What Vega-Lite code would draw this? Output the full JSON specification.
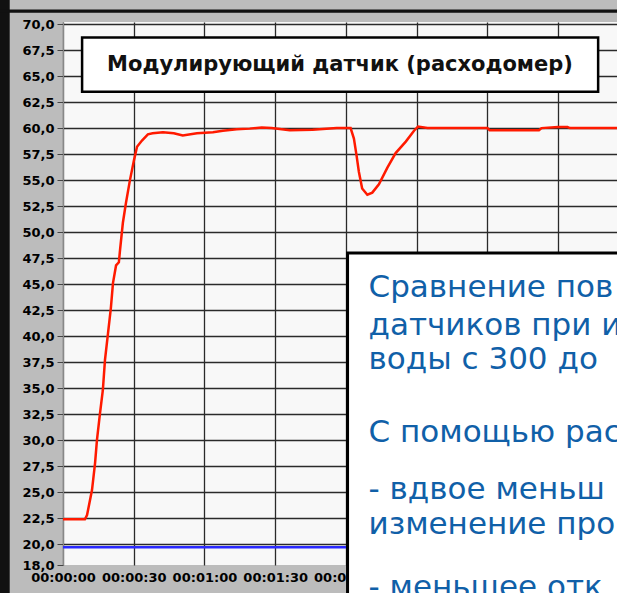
{
  "$schema": "https://vega.github.io/schema/vega-lite/v6.json",
  "width": 554,
  "height": 543,
  "autosize": {"type": "none"},
  "padding": {"left": 63, "top": 22, "right": 0, "bottom": 28},
  "background": "#bcbcbc",
  "config": {
    "view": {"fill": "#f8f8f8", "stroke": null},
    "axis": {"labelOverlap": false, "labelBound": false, "labelFont": "DejaVu Sans", "labelFontWeight": "bold", "labelColor": "#000000", "grid": true, "gridColor": "#2a2a2a", "gridWidth": 1.3, "title": null},
    "axisX": {"labelFontSize": 13, "labelPadding": 6, "ticks": false, "domain": false, "labelFlush": false},
    "axisY": {"labelFontSize": 13, "labelPadding": 3, "tickSize": 6, "tickColor": "#444444", "domainColor": "#888888"}
  },
  "datasets": {
    "red": [
      {"t": 0, "v": 22.4}, {"t": 5, "v": 22.4}, {"t": 9.3, "v": 22.4}, {"t": 10.2, "v": 22.8},
      {"t": 12.3, "v": 25.2}, {"t": 13.6, "v": 27.8}, {"t": 14.4, "v": 30.0}, {"t": 15.7, "v": 32.6},
      {"t": 16.9, "v": 34.8}, {"t": 17.8, "v": 37.7}, {"t": 19.1, "v": 40.3}, {"t": 20.3, "v": 42.7},
      {"t": 21.2, "v": 45.1}, {"t": 22.5, "v": 46.8}, {"t": 23.7, "v": 47.1}, {"t": 24.2, "v": 48.3},
      {"t": 25.4, "v": 50.9}, {"t": 26.7, "v": 52.8}, {"t": 28.4, "v": 55.0}, {"t": 30.1, "v": 56.9},
      {"t": 31.4, "v": 58.2}, {"t": 33.5, "v": 58.8}, {"t": 36.0, "v": 59.4}, {"t": 38.0, "v": 59.5},
      {"t": 42.4, "v": 59.6}, {"t": 47.0, "v": 59.5}, {"t": 50.8, "v": 59.3}, {"t": 56.8, "v": 59.5},
      {"t": 63.6, "v": 59.6}, {"t": 67.8, "v": 59.75}, {"t": 73.7, "v": 59.9}, {"t": 79.2, "v": 59.95},
      {"t": 84.3, "v": 60.05}, {"t": 88.5, "v": 60.0}, {"t": 96.2, "v": 59.8}, {"t": 105.9, "v": 59.85},
      {"t": 116.1, "v": 60.0}, {"t": 122.0, "v": 60.0}, {"t": 123.4, "v": 59.0}, {"t": 124.5, "v": 57.4},
      {"t": 125.5, "v": 55.8}, {"t": 126.9, "v": 54.2}, {"t": 129.1, "v": 53.6}, {"t": 131.2, "v": 53.8},
      {"t": 134.0, "v": 54.6}, {"t": 137.6, "v": 56.2}, {"t": 141.1, "v": 57.6}, {"t": 145.4, "v": 58.7},
      {"t": 148.9, "v": 59.75}, {"t": 150.6, "v": 60.15}, {"t": 154.6, "v": 60.0}, {"t": 180.0, "v": 60.0},
      {"t": 181.0, "v": 59.8}, {"t": 201.9, "v": 59.8}, {"t": 203.0, "v": 60.0}, {"t": 210.0, "v": 60.1},
      {"t": 214.0, "v": 60.1}, {"t": 215.0, "v": 60.0}, {"t": 235.0, "v": 60.0}
    ],
    "blue": [{"t": 0, "v": 19.7}, {"t": 235, "v": 19.7}],
    "title": [{"label": "Модулирующий датчик (расходомер)"}],
    "note": [
      {"line": "Сравнение пов", "v": 44.6},
      {"line": "датчиков при и", "v": 41.0},
      {"line": "воды с 300 до", "v": 37.7},
      {"line": "С помощью рас", "v": 30.7},
      {"line": "- вдвое меньш", "v": 25.2},
      {"line": "изменение про", "v": 21.8},
      {"line": "- меньшее отк", "v": 15.8}
    ]
  },
  "layer": [
    {
      "data": {"name": "blue"},
      "mark": {"type": "line", "color": "#2a2aff", "strokeWidth": 2.5},
      "encoding": {
        "x": {
          "field": "t", "type": "quantitative",
          "scale": {"domain": [0, 235], "nice": false, "zero": false},
          "axis": {"values": [0, 30, 60, 90, 120, 150, 180, 210], "tickCount": 20, "labelExpr": "'00:0' + floor(datum.value/60) + ':' + (datum.value % 60 < 10 ? '0' : '') + (datum.value % 60)", "labelOverlap": false, "labelFontSize": 13}
        },
        "y": {
          "field": "v", "type": "quantitative",
          "scale": {"domain": [18, 70.2], "nice": false, "zero": false},
          "axis": {
            "values": [18, 20, 22.5, 25, 27.5, 30, 32.5, 35, 37.5, 40, 42.5, 45, 47.5, 50, 52.5, 55, 57.5, 60, 62.5, 65, 67.5, 70],
            "tickCount": 40,
            "labelExpr": "replace(format(datum.value, '.1f'), '.', ',')",
            "labelOverlap": false,
            "labelFontSize": 13,
            "gridOpacity": {"condition": {"test": "datum.value < 19", "value": 0}, "value": 1}
          }
        }
      }
    },
    {
      "data": {"name": "red"},
      "mark": {"type": "line", "color": "#ff1a00", "strokeWidth": 2.5},
      "encoding": {
        "x": {"field": "t", "type": "quantitative"},
        "y": {"field": "v", "type": "quantitative"}
      }
    },
    {
      "data": {"name": "title"},
      "mark": {"type": "rect", "fill": "#ffffff", "stroke": "#000000", "strokeWidth": 2.5},
      "encoding": {
        "x": {"datum": 8.1, "type": "quantitative"},
        "x2": {"datum": 227},
        "y": {"datum": 68.7, "type": "quantitative"},
        "y2": {"datum": 63.5}
      }
    },
    {
      "data": {"name": "title"},
      "mark": {"type": "text", "font": "DejaVu Sans", "fontWeight": "bold", "fontSize": 21, "color": "#111111", "align": "center", "baseline": "middle"},
      "encoding": {
        "x": {"datum": 117.5, "type": "quantitative"},
        "y": {"datum": 66.1, "type": "quantitative"},
        "text": {"field": "label"}
      }
    },
    {
      "data": {"name": "title"},
      "mark": {"type": "rect", "fill": "#ffffff", "stroke": "#000000", "strokeWidth": 3},
      "encoding": {
        "x": {"datum": 120.7, "type": "quantitative"},
        "x2": {"datum": 300},
        "y": {"datum": 48.0, "type": "quantitative"},
        "y2": {"datum": 5}
      }
    },
    {
      "data": {"name": "note"},
      "mark": {"type": "text", "font": "DejaVu Sans", "fontSize": 31, "color": "#1060a8", "align": "left", "baseline": "middle"},
      "encoding": {
        "x": {"datum": 129.6, "type": "quantitative"},
        "y": {"field": "v", "type": "quantitative"},
        "text": {"field": "line"}
      }
    },
    {
      "data": {"name": "title"},
      "mark": {"type": "rect", "fill": "#111111"},
      "encoding": {
        "x": {"datum": -30, "type": "quantitative"},
        "x2": {"datum": -22.6},
        "y": {"datum": 75, "type": "quantitative"},
        "y2": {"datum": 5}
      }
    },
    {
      "data": {"name": "title"},
      "mark": {"type": "rect", "fill": "#111111"},
      "encoding": {
        "x": {"datum": -30, "type": "quantitative"},
        "x2": {"datum": 300},
        "y": {"datum": 71.4, "type": "quantitative"},
        "y2": {"datum": 71.1}
      }
    }
  ]
}
